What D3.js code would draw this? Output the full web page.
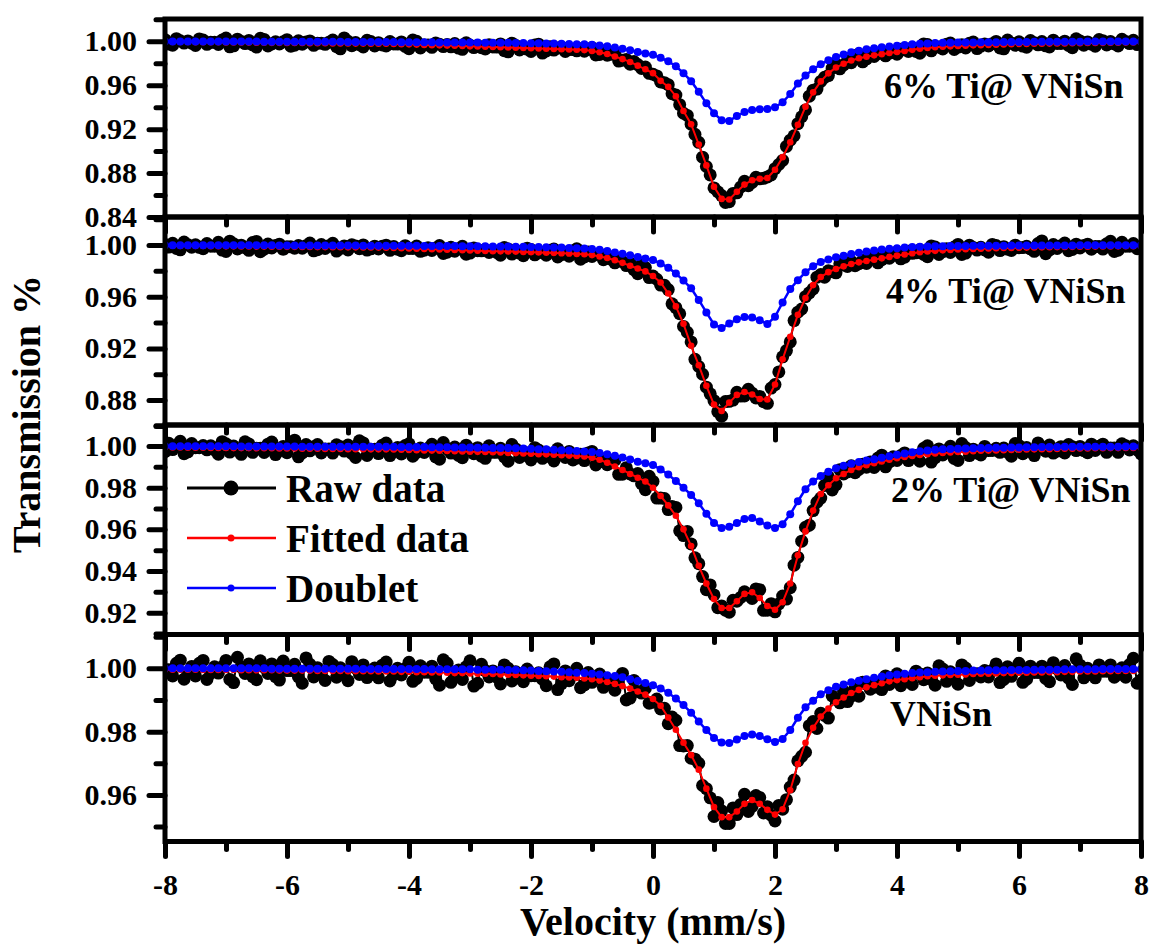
<!DOCTYPE html>
<html>
<head>
<meta charset="utf-8">
<script src="https://cdn.jsdelivr.net/npm/d3@7"></script>
<style>
  html, body { margin: 0; padding: 0; background: #fff; }
  svg { display: block; }
  text { font-family: "Liberation Serif", "Times New Roman", serif; font-weight: bold; fill: #000; }
</style>
</head>
<body>
<svg id="chart" width="1151" height="945"></svg>
<script>
// Mössbauer velocity channels (mm/s); the raw counts use every channel,
// the fitted curves are listed on every second channel.
const velocity = [
  -8,-7.9375,-7.875,-7.8125,-7.75,-7.6875,-7.625,-7.5625,-7.5,-7.4375,-7.375,-7.3125,-7.25,-7.1875,-7.125,-7.0625,
  -7,-6.9375,-6.875,-6.8125,-6.75,-6.6875,-6.625,-6.5625,-6.5,-6.4375,-6.375,-6.3125,-6.25,-6.1875,-6.125,-6.0625,
  -6,-5.9375,-5.875,-5.8125,-5.75,-5.6875,-5.625,-5.5625,-5.5,-5.4375,-5.375,-5.3125,-5.25,-5.1875,-5.125,-5.0625,
  -5,-4.9375,-4.875,-4.8125,-4.75,-4.6875,-4.625,-4.5625,-4.5,-4.4375,-4.375,-4.3125,-4.25,-4.1875,-4.125,-4.0625,
  -4,-3.9375,-3.875,-3.8125,-3.75,-3.6875,-3.625,-3.5625,-3.5,-3.4375,-3.375,-3.3125,-3.25,-3.1875,-3.125,-3.0625,
  -3,-2.9375,-2.875,-2.8125,-2.75,-2.6875,-2.625,-2.5625,-2.5,-2.4375,-2.375,-2.3125,-2.25,-2.1875,-2.125,-2.0625,
  -2,-1.9375,-1.875,-1.8125,-1.75,-1.6875,-1.625,-1.5625,-1.5,-1.4375,-1.375,-1.3125,-1.25,-1.1875,-1.125,-1.0625,
  -1,-0.9375,-0.875,-0.8125,-0.75,-0.6875,-0.625,-0.5625,-0.5,-0.4375,-0.375,-0.3125,-0.25,-0.1875,-0.125,-0.0625,
  0,0.0625,0.125,0.1875,0.25,0.3125,0.375,0.4375,0.5,0.5625,0.625,0.6875,0.75,0.8125,0.875,0.9375,
  1,1.0625,1.125,1.1875,1.25,1.3125,1.375,1.4375,1.5,1.5625,1.625,1.6875,1.75,1.8125,1.875,1.9375,
  2,2.0625,2.125,2.1875,2.25,2.3125,2.375,2.4375,2.5,2.5625,2.625,2.6875,2.75,2.8125,2.875,2.9375,
  3,3.0625,3.125,3.1875,3.25,3.3125,3.375,3.4375,3.5,3.5625,3.625,3.6875,3.75,3.8125,3.875,3.9375,
  4,4.0625,4.125,4.1875,4.25,4.3125,4.375,4.4375,4.5,4.5625,4.625,4.6875,4.75,4.8125,4.875,4.9375,
  5,5.0625,5.125,5.1875,5.25,5.3125,5.375,5.4375,5.5,5.5625,5.625,5.6875,5.75,5.8125,5.875,5.9375,
  6,6.0625,6.125,6.1875,6.25,6.3125,6.375,6.4375,6.5,6.5625,6.625,6.6875,6.75,6.8125,6.875,6.9375,
  7,7.0625,7.125,7.1875,7.25,7.3125,7.375,7.4375,7.5,7.5625,7.625,7.6875,7.75,7.8125,7.875,7.9375,
  8
];

// ---- 6% Ti@ VNiSn ----
const raw6Ti = [
  1.0015,.9975,.9964,1.0024,1.0004,.9984,1.0003,.9983,.9962,1.0022,1.0012,.9972,.9991,.9991,.9971,1.0011,
  1.0030,.9950,.9959,1.0019,.9999,.9979,1.0008,.9968,.9947,1.0027,1.0017,.9957,.9976,.9996,.9976,.9996,
  1.0015,.9955,.9964,1.0004,.9974,.9994,1.0003,.9963,.9982,.9982,.9972,.9992,1.0011,.9951,.9931,1.0031,
  1.0000,.9960,.9989,.9969,.9949,1.0009,.9998,.9958,.9987,.9967,.9957,.9997,.9976,.9975,.9994,.9953,
  .9932,1.0011,1.0000,.9939,.9967,.9966,.9945,.9984,.9973,.9952,.9971,.9950,.9979,.9938,.9927,.9986,
  .9964,.9943,.9962,.9941,.9930,.9969,.9948,.9947,.9976,.9915,.9904,.9983,.9962,.9921,.9950,.9929,
  .9907,.9966,.9974,.9893,.9912,.9951,.9920,.9939,.9948,.9907,.9926,.9925,.9913,.9932,.9910,.9926,
  .9942,.9876,.9880,.9912,.9874,.9883,.9892,.9820,.9828,.9835,.9792,.9815,.9788,.9752,.9765,.9708,
  .9700,.9685,.9630,.9623,.9605,.9523,.9510,.9423,.9345,.9325,.9245,.9153,.9080,.8945,.8860,.8783,
  .8665,.8630,.8595,.8533,.8540,.8615,.8620,.8673,.8725,.8685,.8715,.8762,.8748,.8752,.8765,.8783,
  .8840,.8878,.8915,.9043,.9100,.9140,.9250,.9313,.9375,.9500,.9555,.9565,.9635,.9672,.9688,.9755,
  .9792,.9749,.9785,.9820,.9805,.9855,.9885,.9813,.9840,.9886,.9862,.9888,.9903,.9868,.9893,.9898,
  .9882,.9927,.9922,.9907,.9942,.9907,.9892,.9976,.9970,.9913,.9946,.9948,.9930,.9972,.9984,.9926,
  .9947,.9969,.9940,.9982,.9993,.9934,.9955,.9976,.9957,.9978,.9999,.9940,.9931,1.0012,.9983,.9964,
  .9995,.9956,.9946,1.0007,.9987,.9968,.9998,.9959,.9949,1.0010,.9980,.9981,1.0001,.9962,.9942,1.0023,
  1.0003,.9964,.9994,.9975,.9955,1.0016,1.0006,.9967,.9997,.9977,.9957,1.0018,.9998,.9979,1.0009,.9970,
  .9980
];
const fit6Ti = [
  .9995,.9994,.9994,.9993,.9992,.9992,.9991,.9991,
  .9990,.9989,.9989,.9988,.9987,.9987,.9986,.9986,
  .9985,.9984,.9984,.9983,.9982,.9982,.9981,.9981,
  .9980,.9979,.9979,.9978,.9977,.9977,.9976,.9974,
  .9972,.9970,.9967,.9965,.9963,.9961,.9959,.9957,
  .9954,.9952,.9950,.9948,.9946,.9944,.9942,.9940,
  .9937,.9934,.9932,.9930,.9928,.9926,.9923,.9920,
  .9912,.9900,.9884,.9862,.9838,.9812,.9778,.9745,
  .9710,.9640,.9585,.9500,.9365,.9245,.9060,.8870,
  .8675,.8565,.8560,.8630,.8695,.8735,.8748,.8755,
  .8830,.8945,.9080,.9240,.9405,.9535,.9635,.9708,
  .9762,.9795,.9825,.9845,.9860,.9872,.9883,.9893,
  .9902,.9912,.9922,.9932,.9940,.9946,.9950,.9954,
  .9957,.9960,.9963,.9965,.9967,.9969,.9971,.9973,
  .9975,.9976,.9977,.9978,.9979,.9980,.9981,.9982,
  .9983,.9984,.9985,.9986,.9987,.9987,.9988,.9989,
  .9990
];
const doublet6Ti = [
  .9998,.9998,.9998,.9998,.9998,.9998,.9997,.9997,
  .9997,.9997,.9997,.9997,.9997,.9996,.9996,.9996,
  .9996,.9996,.9996,.9995,.9995,.9995,.9995,.9995,
  .9994,.9994,.9994,.9994,.9993,.9993,.9993,.9992,
  .9992,.9992,.9991,.9991,.9990,.9990,.9989,.9989,
  .9988,.9988,.9987,.9987,.9986,.9986,.9985,.9984,
  .9983,.9982,.9980,.9979,.9977,.9976,.9974,.9972,
  .9968,.9962,.9954,.9944,.9932,.9918,.9903,.9889,
  .9877,.9850,.9818,.9773,.9710,.9637,.9540,.9435,
  .9345,.9280,.9275,.9320,.9355,.9375,.9382,.9383,
  .9400,.9445,.9520,.9615,.9688,.9745,.9790,.9828,
  .9858,.9880,.9900,.9915,.9927,.9937,.9946,.9953,
  .9960,.9966,.9972,.9977,.9981,.9984,.9986,.9987,
  .9988,.9989,.9990,.9991,.9992,.9992,.9993,.9993,
  .9994,.9994,.9995,.9995,.9995,.9996,.9996,.9996,
  .9996,.9997,.9997,.9997,.9997,.9998,.9998,.9998,
  .9998
];

// ---- 4% Ti@ VNiSn ----
const raw4Ti = [
  1.0004,.9984,1.0014,.9974,.9963,1.0023,1.0003,.9983,1.0002,.9982,.9972,1.0012,.9991,.9991,1.0021,.9961,
  .9950,1.0030,1.0010,.9970,.9999,.9979,.9959,1.0019,1.0028,.9948,.9968,1.0008,.9977,.9997,1.0007,.9967,
  .9986,.9986,.9976,.9996,.9975,.9995,1.0015,.9955,.9964,1.0004,.9974,.9994,1.0013,.9953,.9973,.9993,
  .9962,1.0002,.9992,.9972,1.0001,.9961,.9971,.9991,.9970,.9990,.9999,.9959,.9988,.9967,.9956,.9995,
  .9974,.9973,.9992,.9951,.9960,.9979,.9958,.9977,.9996,.9935,.9944,.9983,.9952,.9971,.9990,.9929,
  .9938,.9977,.9956,.9955,.9964,.9943,.9962,.9942,.9921,.9981,.9970,.9930,.9959,.9938,.9917,.9976,
  .9965,.9924,.9943,.9942,.9921,.9960,.9969,.9908,.9926,.9945,.9914,.9953,.9971,.9890,.9909,.9946,
  .9912,.9927,.9932,.9886,.9900,.9891,.9862,.9892,.9872,.9841,.9860,.9809,.9778,.9847,.9826,.9748,
  .9760,.9735,.9690,.9688,.9655,.9545,.9515,.9468,.9370,.9325,.9250,.9115,.9060,.9000,.8900,.8848,
  .8795,.8710,.8675,.8788,.8790,.8800,.8860,.8831,.8832,.8883,.8853,.8816,.8828,.8787,.8775,.8893,
  .8920,.9018,.9135,.9183,.9250,.9415,.9480,.9505,.9600,.9630,.9660,.9751,.9772,.9751,.9800,.9793,
  .9785,.9855,.9845,.9834,.9873,.9840,.9856,.9882,.9857,.9902,.9917,.9862,.9887,.9913,.9898,.9923,
  .9948,.9893,.9907,.9952,.9936,.9940,.9964,.9927,.9910,.9993,.9985,.9927,.9949,.9971,.9942,.9984,
  1.0005,.9927,.9938,.9999,.9980,.9961,.9982,.9963,.9944,1.0005,.9996,.9957,.9987,.9968,.9958,.9999,
  .9979,.9980,.9990,.9971,.9951,1.0012,1.0032,.9933,.9963,1.0004,.9974,.9995,1.0015,.9956,.9966,1.0007,
  .9977,.9997,1.0007,.9968,.9988,.9989,.9969,1.0009,1.0029,.9950,.9960,1.0021,.9991,.9991,1.0011,.9972,
  .9982
];
const fit4Ti = [
  .9994,.9994,.9993,.9993,.9992,.9992,.9991,.9991,
  .9990,.9990,.9989,.9989,.9988,.9988,.9987,.9987,
  .9986,.9986,.9985,.9985,.9984,.9984,.9983,.9983,
  .9982,.9982,.9981,.9981,.9980,.9979,.9978,.9976,
  .9974,.9972,.9970,.9968,.9966,.9964,.9962,.9960,
  .9958,.9956,.9954,.9952,.9951,.9950,.9949,.9947,
  .9945,.9943,.9941,.9939,.9936,.9934,.9931,.9929,
  .9922,.9912,.9900,.9882,.9862,.9840,.9818,.9796,
  .9760,.9710,.9625,.9525,.9390,.9220,.9070,.8910,
  .8765,.8715,.8780,.8840,.8862,.8843,.8808,.8805,
  .8920,.9115,.9290,.9460,.9590,.9690,.9752,.9790,
  .9815,.9835,.9853,.9866,.9877,.9887,.9897,.9908,
  .9918,.9927,.9936,.9944,.9950,.9955,.9959,.9962,
  .9965,.9968,.9970,.9972,.9974,.9976,.9977,.9978,
  .9979,.9980,.9981,.9982,.9983,.9984,.9985,.9986,
  .9987,.9987,.9988,.9989,.9989,.9990,.9991,.9991,
  .9992
];
const doublet4Ti = [
  .9999,.9999,.9999,.9999,.9999,.9999,.9999,.9999,
  .9998,.9998,.9998,.9998,.9998,.9998,.9998,.9997,
  .9997,.9997,.9997,.9997,.9997,.9996,.9996,.9996,
  .9996,.9996,.9995,.9995,.9995,.9995,.9994,.9994,
  .9994,.9994,.9993,.9993,.9993,.9992,.9992,.9991,
  .9991,.9990,.9990,.9989,.9989,.9988,.9987,.9986,
  .9985,.9984,.9983,.9981,.9980,.9978,.9976,.9974,
  .9970,.9963,.9954,.9943,.9932,.9920,.9908,.9896,
  .9884,.9858,.9825,.9780,.9725,.9665,.9575,.9478,
  .9385,.9358,.9392,.9425,.9443,.9440,.9418,.9388,
  .9445,.9555,.9660,.9728,.9790,.9835,.9868,.9889,
  .9905,.9918,.9930,.9940,.9949,.9957,.9965,.9971,
  .9976,.9980,.9984,.9987,.9989,.9990,.9991,.9992,
  .9993,.9993,.9994,.9994,.9995,.9995,.9995,.9996,
  .9996,.9996,.9996,.9997,.9997,.9997,.9997,.9997,
  .9998,.9998,.9998,.9998,.9998,.9998,.9999,.9999,
  .9999
];

// ---- 2% Ti@ VNiSn ----
const raw2Ti = [
  .9973,1.0013,.9983,1.0003,1.0023,.9963,.9972,1.0012,.9992,.9992,1.0002,.9982,1.0001,.9981,.9961,1.0021,
  1.0011,.9971,1.0000,.9980,.9960,1.0020,1.0010,.9970,.9989,.9989,.9969,1.0009,1.0019,.9959,.9978,.9998,
  .9968,1.0008,1.0028,.9948,.9967,1.0007,.9977,.9997,1.0007,.9967,.9986,.9986,.9966,1.0006,.9996,.9976,
  1.0005,.9965,.9945,1.0025,1.0015,.9955,.9984,.9984,.9964,1.0004,1.0014,.9954,.9973,.9993,.9962,1.0002,
  1.0011,.9951,.9970,.9990,.9969,.9989,1.0008,.9948,.9937,1.0017,.9986,.9966,.9995,.9955,.9944,1.0004,
  .9983,.9963,.9992,.9952,.9941,1.0001,.9970,.9970,.9989,.9948,.9927,1.0007,.9986,.9945,.9974,.9954,
  .9933,.9992,.9981,.9941,.9970,.9949,.9928,.9987,.9966,.9945,.9974,.9933,.9942,.9961,.9930,.9967,
  .9974,.9909,.9924,.9937,.9910,.9921,.9932,.9864,.9865,.9896,.9866,.9857,.9868,.9819,.9790,.9855,
  .9830,.9750,.9750,.9748,.9695,.9710,.9705,.9593,.9570,.9590,.9530,.9463,.9435,.9373,.9310,.9333,
  .9285,.9224,.9232,.9212,.9202,.9259,.9255,.9273,.9300,.9284,.9268,.9314,.9310,.9211,.9212,.9243,
  .9204,.9242,.9280,.9265,.9320,.9428,.9465,.9543,.9610,.9620,.9690,.9730,.9750,.9811,.9852,.9789,
  .9815,.9886,.9866,.9876,.9905,.9872,.9888,.9913,.9898,.9923,.9897,.9942,.9956,.9900,.9924,.9948,
  .9931,.9954,.9967,.9930,.9952,.9955,.9927,.9989,1.0001,.9923,.9944,.9986,.9957,.9978,.9999,.9940,
  .9931,1.0012,.9993,.9954,.9985,.9966,.9957,.9998,.9978,.9979,.9989,.9970,.9990,.9971,.9951,1.0012,
  1.0002,.9963,.9993,.9974,.9954,1.0015,.9995,.9975,1.0005,.9966,.9976,.9997,.9967,1.0007,.9997,.9978,
  .9998,.9978,.9968,1.0009,.9979,.9999,1.0009,.9970,.9990,.9990,.9970,1.0011,1.0001,.9981,1.0001,.9982,
  .9962
];
const fit2Ti = [
  .9993,.9993,.9993,.9992,.9992,.9992,.9991,.9991,
  .9991,.9990,.9990,.9990,.9989,.9989,.9989,.9988,
  .9988,.9988,.9987,.9987,.9987,.9986,.9986,.9986,
  .9985,.9985,.9985,.9984,.9984,.9984,.9983,.9982,
  .9981,.9980,.9979,.9978,.9977,.9976,.9975,.9974,
  .9973,.9972,.9971,.9970,.9969,.9967,.9966,.9964,
  .9963,.9961,.9960,.9958,.9956,.9954,.9952,.9950,
  .9944,.9934,.9920,.9902,.9885,.9866,.9848,.9830,
  .9800,.9760,.9715,.9665,.9600,.9520,.9425,.9340,
  .9265,.9222,.9222,.9255,.9290,.9298,.9270,.9232,
  .9214,.9250,.9340,.9475,.9590,.9690,.9770,.9812,
  .9845,.9866,.9885,.9898,.9908,.9917,.9926,.9934,
  .9941,.9947,.9952,.9957,.9961,.9964,.9967,.9969,
  .9971,.9973,.9975,.9977,.9978,.9979,.9980,.9981,
  .9982,.9983,.9984,.9985,.9985,.9986,.9987,.9987,
  .9988,.9988,.9989,.9989,.9990,.9990,.9991,.9991,
  .9992
];
const doublet2Ti = [
  .9999,.9999,.9999,.9999,.9999,.9999,.9999,.9999,
  .9999,.9999,.9998,.9998,.9998,.9998,.9998,.9998,
  .9998,.9998,.9997,.9997,.9997,.9997,.9997,.9997,
  .9997,.9996,.9996,.9996,.9996,.9996,.9996,.9995,
  .9995,.9995,.9995,.9994,.9994,.9994,.9993,.9993,
  .9993,.9992,.9992,.9991,.9991,.9990,.9989,.9988,
  .9987,.9985,.9984,.9982,.9980,.9978,.9976,.9974,
  .9971,.9967,.9961,.9953,.9945,.9935,.9925,.9917,
  .9909,.9887,.9863,.9832,.9800,.9765,.9725,.9675,
  .9630,.9607,.9612,.9630,.9650,.9655,.9638,.9618,
  .9606,.9625,.9672,.9735,.9793,.9830,.9856,.9877,
  .9893,.9905,.9915,.9923,.9930,.9937,.9944,.9951,
  .9958,.9964,.9970,.9975,.9979,.9982,.9984,.9986,
  .9987,.9988,.9989,.9990,.9991,.9992,.9992,.9993,
  .9993,.9994,.9994,.9995,.9995,.9995,.9996,.9996,
  .9996,.9996,.9997,.9997,.9997,.9997,.9998,.9998,
  .9998
];

// ---- VNiSn ----
const rawPure = [
  .9996,.9996,.9976,1.0016,1.0026,.9966,.9986,1.0006,.9976,1.0016,1.0025,.9965,.9985,1.0005,.9985,1.0005,
  1.0025,.9965,.9955,1.0035,1.0004,.9984,1.0014,.9974,.9964,1.0024,1.0004,.9984,1.0014,.9974,.9963,1.0023,
  .9993,.9993,1.0013,.9973,.9953,1.0033,1.0013,.9973,1.0002,.9982,.9962,1.0022,1.0012,.9972,1.0002,.9982,
  .9961,1.0021,1.0001,.9981,1.0011,.9971,.9981,1.0001,.9970,1.0010,1.0020,.9960,.9980,1.0000,.9979,.9999,
  1.0019,.9959,.9968,1.0008,.9988,.9988,1.0007,.9967,.9947,1.0027,1.0016,.9956,.9975,.9995,.9965,1.0005,
  1.0024,.9944,.9953,1.0013,.9993,.9973,.9992,.9972,.9951,1.0011,1.0000,.9960,.9989,.9969,.9958,.9998,
  .9977,.9977,.9986,.9966,.9945,1.0005,1.0014,.9933,.9952,.9992,.9961,.9981,1.0000,.9939,.9948,.9987,
  .9956,.9974,.9982,.9940,.9957,.9954,.9931,.9968,.9984,.9900,.9906,.9962,.9927,.9922,.9937,.9890,
  .9893,.9903,.9872,.9874,.9825,.9846,.9836,.9756,.9755,.9756,.9716,.9713,.9700,.9630,.9620,.9591,
  .9532,.9576,.9550,.9510,.9510,.9559,.9538,.9570,.9602,.9548,.9564,.9598,.9592,.9543,.9563,.9536,
  .9518,.9567,.9555,.9585,.9625,.9647,.9708,.9722,.9735,.9819,.9832,.9810,.9858,.9851,.9843,.9913,
  .9903,.9891,.9928,.9895,.9912,.9937,.9912,.9956,.9950,.9934,.9957,.9940,.9933,.9976,.9949,.9971,
  .9983,.9945,.9966,.9968,.9949,.9991,.9982,.9964,.9985,.9966,.9947,1.0008,.9998,.9959,.9989,.9970,
  .9950,1.0011,1.0001,.9962,.9982,.9983,.9973,.9993,.9973,.9994,1.0014,.9955,.9965,1.0005,.9975,.9996,
  1.0016,.9956,.9966,1.0007,.9987,.9987,1.0007,.9968,.9958,1.0018,.9998,.9979,1.0009,.9969,.9949,1.0030,
  1.0010,.9970,1.0000,.9980,.9970,1.0011,.9991,.9991,1.0011,.9972,.9982,1.0002,.9972,1.0012,1.0032,.9953,
  .9963
];
const fitPure = [
  .9996,.9996,.9996,.9996,.9996,.9995,.9995,.9995,
  .9995,.9995,.9994,.9994,.9994,.9994,.9994,.9993,
  .9993,.9993,.9993,.9993,.9992,.9992,.9992,.9992,
  .9991,.9991,.9991,.9991,.9990,.9990,.9990,.9989,
  .9989,.9988,.9988,.9987,.9987,.9986,.9985,.9985,
  .9984,.9983,.9983,.9982,.9981,.9980,.9979,.9978,
  .9977,.9976,.9975,.9974,.9972,.9971,.9970,.9968,
  .9966,.9962,.9957,.9951,.9944,.9936,.9927,.9917,
  .9903,.9882,.9845,.9806,.9765,.9726,.9680,.9620,
  .9562,.9530,.9530,.9548,.9572,.9584,.9572,.9553,
  .9538,.9555,.9615,.9698,.9765,.9812,.9848,.9873,
  .9893,.9908,.9922,.9932,.9940,.9947,.9953,.9959,
  .9963,.9966,.9969,.9972,.9975,.9977,.9978,.9979,
  .9980,.9981,.9982,.9983,.9983,.9984,.9985,.9985,
  .9986,.9986,.9987,.9987,.9988,.9988,.9989,.9989,
  .9990,.9990,.9990,.9991,.9991,.9992,.9992,.9992,
  .9993
];
const doubletPure = [
  1,1,1,1,1,1,1,1,
  1,1,1,1,1,1,.9999,.9999,
  .9999,.9999,.9999,.9999,.9999,.9999,.9999,.9999,
  .9999,.9999,.9998,.9998,.9998,.9998,.9998,.9998,
  .9998,.9998,.9998,.9997,.9997,.9997,.9997,.9997,
  .9997,.9996,.9996,.9996,.9996,.9995,.9995,.9994,
  .9993,.9992,.9991,.9990,.9989,.9988,.9986,.9985,
  .9983,.9981,.9978,.9976,.9972,.9966,.9960,.9954,
  .9947,.9936,.9923,.9905,.9884,.9860,.9832,.9805,
  .9780,.9766,.9764,.9775,.9786,.9791,.9786,.9776,
  .9767,.9777,.9805,.9844,.9877,.9898,.9918,.9931,
  .9942,.9949,.9956,.9961,.9966,.9970,.9974,.9978,
  .9981,.9983,.9985,.9987,.9988,.9989,.9990,.9991,
  .9992,.9992,.9993,.9993,.9994,.9994,.9994,.9995,
  .9995,.9995,.9996,.9996,.9996,.9996,.9997,.9997,
  .9997,.9997,.9997,.9998,.9998,.9998,.9998,.9998,
  .9998
];

// Sample names, axis ranges and tick values
const sampleNames = ["6% Ti@ VNiSn", "4% Ti@ VNiSn", "2% Ti@ VNiSn", "VNiSn"];
const yLimits = [[0.84, 1.0203], [0.8607, 1.0217], [0.9095, 1.0101], [0.9453, 1.0107]];
const yMajorTicks = [
  [0.84, 0.88, 0.92, 0.96, 1.00],
  [0.88, 0.92, 0.96, 1.00],
  [0.92, 0.94, 0.96, 0.98, 1.00],
  [0.96, 0.98, 1.00]
];
const yMinorTicks = [
  [0.86, 0.90, 0.94, 0.98, 1.02],
  [0.86, 0.90, 0.94, 0.98, 1.02],
  [0.91, 0.93, 0.95, 0.97, 0.99, 1.01],
  [0.95, 0.97, 0.99, 1.01]
];
const xMajorTicks = [-8, -6, -4, -2, 0, 2, 4, 6, 8];
const xMinorTicks = [-7, -5, -3, -1, 1, 3, 5, 7];
const legendNames = ["Raw data", "Fitted data", "Doublet"];

const series = [
  { raw: raw6Ti, fit: fit6Ti, doublet: doublet6Ti },
  { raw: raw4Ti, fit: fit4Ti, doublet: doublet4Ti },
  { raw: raw2Ti, fit: fit2Ti, doublet: doublet2Ti },
  { raw: rawPure, fit: fitPure, doublet: doubletPure }
];

// ---- layout ----
const plotLeft = 165, plotRight = 1141;
const panelBoxes = [[19, 217], [217, 425], [425, 634.5], [634.5, 841.5]];
const labelPos = [[884, 98], [886, 303], [891, 502], [890, 726]];
const colors = { raw: "#000000", fit: "#ff0000", doublet: "#0000ff" };

const svg = d3.select("#chart");
const defs = svg.append("defs");
const x = d3.scaleLinear().domain([-8, 8]).range([plotLeft, plotRight]);

function styleAxis(g, width) {
  g.select(".domain").remove();
  g.selectAll(".tick line")
    .attr("stroke", "#000")
    .attr("stroke-width", width)
    .attr("stroke-linecap", "round");
}

series.forEach((s, k) => {
  const [top, bottom] = panelBoxes[k];
  const y = d3.scaleLinear().domain(yLimits[k]).range([bottom, top]);

  defs.append("clipPath").attr("id", "clip" + k)
    .append("rect")
    .attr("x", plotLeft).attr("y", top)
    .attr("width", plotRight - plotLeft).attr("height", bottom - top);

  const g = svg.append("g").attr("clip-path", `url(#clip${k})`);
  const rawPts = s.raw.map((t, j) => [velocity[j], t]);
  const onHalf = arr => arr.map((t, i) => [velocity[2 * i], t]);
  const line = d3.line().x(d => x(d[0])).y(d => y(d[1]));

  // raw spectrum
  g.append("path").datum(rawPts).attr("d", line)
    .attr("fill", "none").attr("stroke", colors.raw).attr("stroke-width", 2)
    .attr("stroke-linejoin", "round");
  g.append("g").selectAll("circle").data(rawPts).join("circle")
    .attr("cx", d => x(d[0])).attr("cy", d => y(d[1])).attr("r", 6.5)
    .attr("fill", colors.raw);

  // total fit
  const fitPts = onHalf(s.fit);
  g.append("path").datum(fitPts).attr("d", line)
    .attr("fill", "none").attr("stroke", colors.fit).attr("stroke-width", 2);
  g.append("g").selectAll("circle").data(fitPts).join("circle")
    .attr("cx", d => x(d[0])).attr("cy", d => y(d[1])).attr("r", 3.3)
    .attr("fill", colors.fit);

  // doublet component
  const dblPts = onHalf(s.doublet);
  g.append("path").datum(dblPts).attr("d", line)
    .attr("fill", "none").attr("stroke", colors.doublet).attr("stroke-width", 2.5);
  g.append("g").selectAll("circle").data(dblPts).join("circle")
    .attr("cx", d => x(d[0])).attr("cy", d => y(d[1])).attr("r", 4)
    .attr("fill", colors.doublet);

  // frame
  svg.append("rect")
    .attr("x", plotLeft).attr("y", top)
    .attr("width", plotRight - plotLeft).attr("height", bottom - top)
    .attr("fill", "none").attr("stroke", "#000").attr("stroke-width", 5);

  // y axis
  const yMajor = svg.append("g").attr("transform", `translate(${plotLeft},0)`)
    .call(d3.axisLeft(y).tickValues(yMajorTicks[k]).tickSize(16).tickSizeOuter(0)
      .tickPadding(12).tickFormat(d3.format(".2f")));
  yMajor.attr("font-size", 30).attr("font-family", null);
  styleAxis(yMajor, 5);
  const yMinor = svg.append("g").attr("transform", `translate(${plotLeft},0)`)
    .call(d3.axisLeft(y).tickValues(yMinorTicks[k]).tickSize(9).tickSizeOuter(0).tickFormat(""));
  styleAxis(yMinor, 5);

  // x axis (labels on the lowest panel only)
  const last = k === series.length - 1;
  const xMajor = svg.append("g").attr("transform", `translate(0,${bottom})`)
    .call(d3.axisBottom(x).tickValues(xMajorTicks).tickSize(15).tickSizeOuter(0)
      .tickPadding(17).tickFormat(last ? d3.format("d") : ""));
  xMajor.attr("font-size", 30).attr("font-family", null);
  xMajor.selectAll(".tick text").text(d => last ? String(d) : "");
  styleAxis(xMajor, 5);
  const xMinor = svg.append("g").attr("transform", `translate(0,${bottom})`)
    .call(d3.axisBottom(x).tickValues(xMinorTicks).tickSize(8).tickSizeOuter(0).tickFormat(""));
  styleAxis(xMinor, 5);

  // sample name
  svg.append("text")
    .attr("x", labelPos[k][0]).attr("y", labelPos[k][1])
    .attr("font-size", 36)
    .text(sampleNames[k]);
});

// legend (inside the 2% panel)
const legendRows = [
  { name: legendNames[0], color: colors.raw, r: 7.5, w: 3 },
  { name: legendNames[1], color: colors.fit, r: 3.5, w: 2.5 },
  { name: legendNames[2], color: colors.doublet, r: 3.5, w: 2.5 }
];
const lg = svg.append("g");
legendRows.forEach((row, i) => {
  const ly = 488 + i * 50;
  lg.append("line").attr("x1", 187).attr("x2", 276).attr("y1", ly).attr("y2", ly)
    .attr("stroke", row.color).attr("stroke-width", row.w);
  lg.append("circle").attr("cx", 231).attr("cy", ly).attr("r", row.r).attr("fill", row.color);
  lg.append("text").attr("x", 286).attr("y", ly + 14).attr("font-size", 39).text(row.name);
});

// axis titles
svg.append("text")
  .attr("transform", "translate(40,414) rotate(-90)")
  .attr("text-anchor", "middle")
  .attr("font-size", 40)
  .text("Transmission %");
svg.append("text")
  .attr("x", 653).attr("y", 935)
  .attr("text-anchor", "middle")
  .attr("font-size", 40)
  .text("Velocity (mm/s)");
</script>
</body>
</html>
